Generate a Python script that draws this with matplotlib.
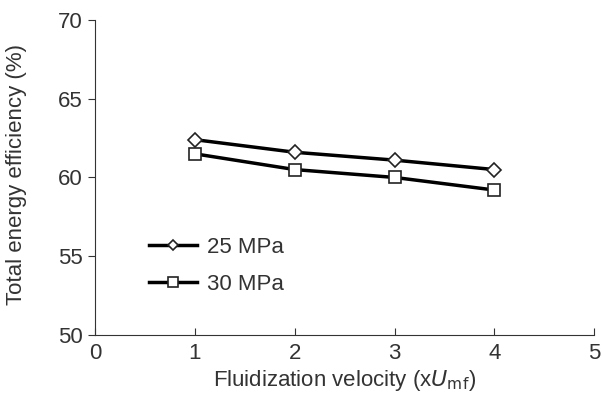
import numpy as np
import matplotlib
matplotlib.use('Agg')
import matplotlib.pyplot as plt

plt.rcParams['font.family'] = ['Liberation Sans', 'DejaVu Sans']

velocity = [1, 2, 3, 4]
eff_25 = [62.4, 61.6, 61.1, 60.5]
eff_30 = [61.5, 60.5, 60.0, 59.2]

fig = plt.figure(figsize=(6.02, 4.01), dpi=100)
ax = fig.add_axes([0.158, 0.165, 0.829, 0.785])

ax.plot(velocity, eff_25, color='black', lw=2.5, marker='D', ms=7,
        mfc='white', mec='#222222', mew=1.2, label='25 MPa')
ax.plot(velocity, eff_30, color='black', lw=2.5, marker='s', ms=9,
        mfc='white', mec='#222222', mew=1.2, label='30 MPa')

ax.set_xlim(0, 5)
ax.set_ylim(50, 70)
ax.set_xticks(range(0, 6))
ax.set_yticks(range(50, 71, 5))
for s in ['top', 'right']:
    ax.spines[s].set_visible(False)
ax.spines['left'].set_color('#333333')
ax.spines['bottom'].set_color('#333333')
ax.tick_params(axis='x', direction='in', length=5, labelsize=16, pad=6, color='#333333')
ax.tick_params(axis='y', direction='out', length=5, labelsize=16, pad=4, color='#333333')

ax.set_xlabel(r'Fluidization velocity (x$\it{U}_{\rm mf}$)', fontsize=16, color='#333333', labelpad=3)
ax.set_ylabel('Total energy efficiency (%)', fontsize=16, color='#333333')
ax.yaxis.set_label_coords(-0.136, 0.51)
for lab in ax.get_xticklabels() + ax.get_yticklabels():
    lab.set_color('#333333')

leg = ax.legend(loc='upper left', bbox_to_anchor=(0.108, 0.31), frameon=False,
                fontsize=16, handlelength=2.15, handletextpad=0.45,
                labelspacing=0.7, borderpad=0, borderaxespad=0, markerscale=0.75)
for t in leg.get_texts():
    t.set_color('#333333')

plt.savefig('out.png', dpi=100)
